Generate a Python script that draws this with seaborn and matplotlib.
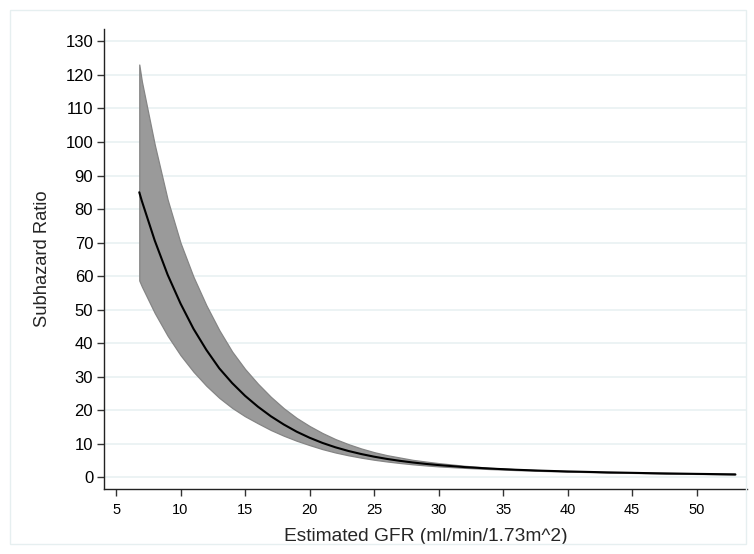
import matplotlib
matplotlib.use("Agg")
import matplotlib.pyplot as plt
import seaborn as sns
import pandas as pd
from matplotlib.patches import Rectangle

# Estimated GFR grid and subhazard ratio with 95% confidence limits
egfr = [6.8, 7, 8, 9, 10, 11, 12, 13, 14, 15, 16, 17, 18, 19, 20, 21, 22, 23,
        24, 25, 26, 27, 28, 29, 30, 32, 34, 36, 38, 40, 43, 46, 50, 53]
shr = [85.0, 82.4, 70.6, 60.4, 51.8, 44.3, 38.0, 32.5, 28.1, 24.3, 21.05,
       18.2, 15.75, 13.6, 11.8, 10.25, 8.95, 7.86, 6.94, 6.15, 5.48, 4.91,
       4.42, 4.00, 3.64, 3.05, 2.60, 2.25, 1.97, 1.75, 1.48, 1.26, 1.02, 0.88]
shr_upper = [123.1, 118.1, 99.2, 82.8, 69.9, 59.8, 51.3, 43.9, 37.5, 32.3,
             27.9, 24.0, 20.6, 17.7, 15.3, 13.2, 11.4, 9.9, 8.6, 7.5, 6.6,
             5.9, 5.2, 4.7, 4.23, 3.44, 2.84, 2.40, 2.07, 1.82, 1.53, 1.30,
             1.05, 0.90]
shr_lower = [58.7, 56.9, 49.0, 42.2, 36.4, 31.5, 27.3, 23.7, 20.7, 18.2,
             16.1, 14.1, 12.4, 10.9, 9.6, 8.4, 7.4, 6.57, 5.86, 5.24, 4.72,
             4.27, 3.88, 3.55, 3.26, 2.82, 2.45, 2.15, 1.90, 1.70, 1.44, 1.24,
             1.00, 0.87]

x_ticks = [5, 10, 15, 20, 25, 30, 35, 40, 45, 50]
y_ticks = list(range(0, 131, 10))

df = pd.DataFrame({"egfr": egfr, "shr": shr, "lo": shr_lower, "hi": shr_upper})

sns.set_theme(style="white")
plt.rcParams["font.family"] = ["Liberation Sans", "DejaVu Sans"]

fig = plt.figure(figsize=(7.54, 5.54), dpi=100)
fig.patch.set_facecolor("white")

# light outer frame around the graph region
fig.patches.append(Rectangle((10 / 754, 10 / 554), 736 / 754, 534 / 554,
                             transform=fig.transFigure, fill=False,
                             edgecolor="#e6eff0", linewidth=1.0, zorder=0))

ax = fig.add_axes([104.3 / 754, 1 - 488.7 / 554, (746.7 - 104.3) / 754,
                   (488.7 - 29.3) / 554])
ax.set_facecolor("white")

ax.fill_between(df["egfr"], df["lo"], df["hi"], facecolor="#9a9a9a",
                edgecolor="#858585", linewidth=0.9, zorder=2)
sns.lineplot(data=df, x="egfr", y="shr", color="black", linewidth=1.5,
             ax=ax, zorder=3)

ax.set_xlim(4.09, 53.88)
ax.set_ylim(-3.4, 133.6)
ax.set_xticks(x_ticks)
ax.set_yticks(y_ticks)
ax.set_yticklabels([str(v) for v in y_ticks], fontsize=12)
ax.set_xticklabels([str(v) for v in x_ticks], fontsize=10.5)

ax.grid(axis="y", color="#eaf2f3", linewidth=1.3, zorder=0)
ax.grid(axis="x", visible=False)
ax.set_axisbelow(True)

for side in ("top", "right"):
    ax.spines[side].set_visible(False)
for side in ("left", "bottom"):
    ax.spines[side].set_color("#222222")
    ax.spines[side].set_linewidth(1.0)

ax.tick_params(axis="y", which="major", direction="out", length=5,
               width=1.0, color="#333333", labelcolor="black", pad=3,
               left=True)
ax.tick_params(axis="x", which="major", direction="out", length=5,
               width=1.0, color="#333333", labelcolor="black", pad=5,
               bottom=True)

ax.set_xlabel("Estimated GFR (ml/min/1.73m^2)", fontsize=13.8, labelpad=8)
ax.set_ylabel("Subhazard Ratio", fontsize=13.2, labelpad=10)

fig.savefig("out.png", dpi=100, facecolor="white")
